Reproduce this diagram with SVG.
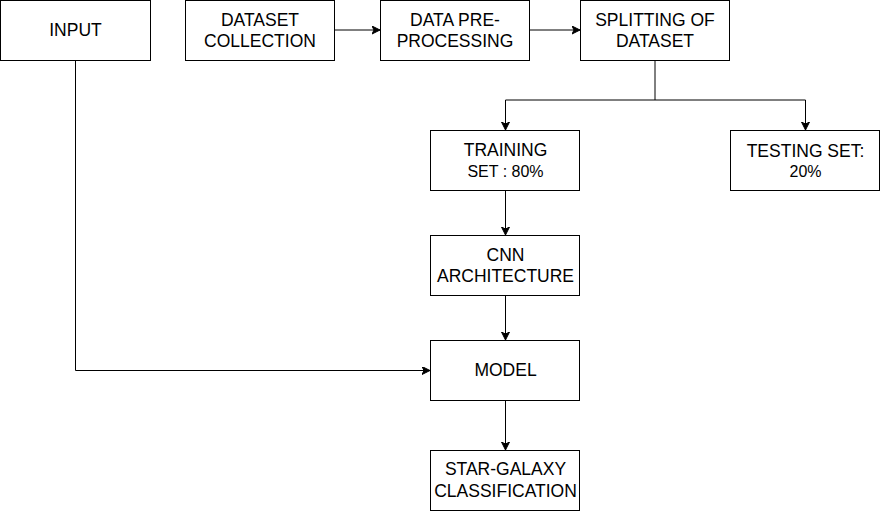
<svg xmlns="http://www.w3.org/2000/svg" width="882" height="511" viewBox="0 0 882 511">
<style>
.box{fill:#ffffff;stroke:#000000;stroke-width:1}
.t{font-family:"Liberation Sans",Arial,sans-serif;font-size:17.5px;fill:#000000;text-anchor:middle}
.s{font-size:16px}
.c{fill:none;stroke:#000000;stroke-width:1}
</style>
<defs>
<marker id="arr" markerUnits="userSpaceOnUse" markerWidth="10" markerHeight="10" refX="8" refY="4" orient="auto">
<path d="M0,0 L8,4 L0,8 L2,4 Z" fill="#000000" stroke="#000000" stroke-width="1"/>
</marker>
</defs>
<rect x="0" y="0" width="882" height="511" fill="#ffffff"/>
<g id="connectors">
<path class="c" d="M335,30 H380" marker-end="url(#arr)"/>
<path class="c" d="M530,30 H580" marker-end="url(#arr)"/>
<path class="c" d="M655,60 V100 H505.5 V130" marker-end="url(#arr)"/>
<path class="c" d="M655,100 H805.5 V130" marker-end="url(#arr)"/>
<path class="c" d="M505.5,190 V235" marker-end="url(#arr)"/>
<path class="c" d="M505.5,295 V340" marker-end="url(#arr)"/>
<path class="c" d="M505.5,400 V450" marker-end="url(#arr)"/>
<path class="c" d="M75.5,60 V370.5 H430" marker-end="url(#arr)"/>
</g>
<g id="input">
<rect class="box" x="0.5" y="0.5" width="150" height="60"/>
<text class="t" x="75.5" y="36.3">INPUT</text>
</g>
<g id="dataset-collection">
<rect class="box" x="185.5" y="0.5" width="149" height="60"/>
<text class="t" x="260" y="26">DATASET</text>
<text class="t" x="260" y="46.7">COLLECTION</text>
</g>
<g id="data-preprocessing">
<rect class="box" x="380.5" y="0.5" width="149" height="60"/>
<text class="t" x="455" y="26">DATA PRE-</text>
<text class="t" x="455" y="46.7">PROCESSING</text>
</g>
<g id="splitting">
<rect class="box" x="580.5" y="0.5" width="149" height="60"/>
<text class="t" x="655" y="26">SPLITTING OF</text>
<text class="t" x="655" y="46.7">DATASET</text>
</g>
<g id="training">
<rect class="box" x="430.5" y="130.5" width="149" height="60"/>
<text class="t" x="505.5" y="156">TRAINING</text>
<text class="t s" x="505.5" y="176.7">SET : 80%</text>
</g>
<g id="testing">
<rect class="box" x="730.5" y="130.5" width="149" height="60"/>
<text class="t" x="805.5" y="156.5">TESTING SET:</text>
<text class="t s" x="805.5" y="176.7">20%</text>
</g>
<g id="cnn">
<rect class="box" x="430.5" y="235.5" width="149" height="60"/>
<text class="t" x="505.5" y="260.7">CNN</text>
<text class="t" x="505.5" y="281.7">ARCHITECTURE</text>
</g>
<g id="model">
<rect class="box" x="430.5" y="340.5" width="149" height="60"/>
<text class="t" x="505.5" y="376.3">MODEL</text>
</g>
<g id="star-galaxy">
<rect class="box" x="430.5" y="450.5" width="149" height="60"/>
<text class="t" x="505.5" y="475">STAR-GALAXY</text>
<text class="t" x="505.5" y="496.7">CLASSIFICATION</text>
</g>
</svg>
